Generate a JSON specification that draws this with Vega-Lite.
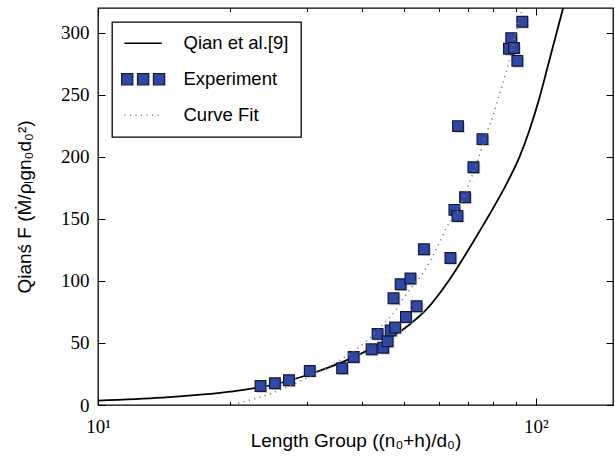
{
  "$schema": "https://vega.github.io/schema/vega-lite/v6.json",
  "width": 515,
  "height": 397,
  "autosize": {"type": "none"},
  "padding": {"left": 98, "top": 8, "right": 2, "bottom": 61},
  "background": "white",
  "config": {
    "view": {"stroke": "black", "strokeWidth": 1.3},
    "axis": {
      "domain": false,
      "grid": false,
      "labelFont": "Liberation Serif",
      "labelFontSize": 19,
      "labelColor": "black",
      "tickColor": "black",
      "tickWidth": 1,
      "titleFont": "Liberation Sans",
      "titleFontSize": 19,
      "titleFontWeight": "normal",
      "titleColor": "black"
    },
    "legend": {
      "orient": "top-left",
      "offset": 14,
      "strokeColor": "black",
      "strokeWidth": 1.3,
      "fillColor": "white",
      "padding": 12,
      "labelFont": "Liberation Sans",
      "labelFontSize": 18.5,
      "labelColor": "black",
      "labelLimit": 400,
      "symbolSize": 1850,
      "labelOffset": 41,
      "rowPadding": 17,
      "cornerRadius": 0
    }
  },
  "datasets": {
    "qian": [
      {"x": 10, "y": 3.5, "series": "Qian et al.[9]"},
      {"x": 14, "y": 5.9, "series": "Qian et al.[9]"},
      {"x": 20, "y": 10.7, "series": "Qian et al.[9]"},
      {"x": 25.5, "y": 16.9, "series": "Qian et al.[9]"},
      {"x": 30.9, "y": 25.6, "series": "Qian et al.[9]"},
      {"x": 40.2, "y": 42, "series": "Qian et al.[9]"},
      {"x": 51.3, "y": 64.5, "series": "Qian et al.[9]"},
      {"x": 56.1, "y": 76.6, "series": "Qian et al.[9]"},
      {"x": 63.4, "y": 100.8, "series": "Qian et al.[9]"},
      {"x": 71.6, "y": 130.4, "series": "Qian et al.[9]"},
      {"x": 75.5, "y": 144, "series": "Qian et al.[9]"},
      {"x": 86.8, "y": 182, "series": "Qian et al.[9]"},
      {"x": 91.5, "y": 199, "series": "Qian et al.[9]"},
      {"x": 101.6, "y": 246, "series": "Qian et al.[9]"},
      {"x": 107, "y": 276, "series": "Qian et al.[9]"},
      {"x": 115.4, "y": 320, "series": "Qian et al.[9]"}
    ],
    "fit": [
      {"x": 20.9, "y": 1.4},
      {"x": 23.4, "y": 6.2},
      {"x": 26.0, "y": 12},
      {"x": 29.1, "y": 19.6},
      {"x": 32.6, "y": 28.2},
      {"x": 36.8, "y": 39},
      {"x": 40.5, "y": 49.8},
      {"x": 44.6, "y": 64.5},
      {"x": 47.9, "y": 76.6},
      {"x": 50.1, "y": 87.3},
      {"x": 51.8, "y": 94},
      {"x": 55.5, "y": 107.5},
      {"x": 59.6, "y": 127.7},
      {"x": 62.7, "y": 143.8},
      {"x": 66.5, "y": 157.3},
      {"x": 69.9, "y": 176},
      {"x": 71.6, "y": 185.5},
      {"x": 74.1, "y": 200.2},
      {"x": 77.4, "y": 220.4},
      {"x": 80.2, "y": 235.2},
      {"x": 82.7, "y": 251.4},
      {"x": 84.5, "y": 262},
      {"x": 86.0, "y": 271.5},
      {"x": 87.1, "y": 278.2},
      {"x": 89.9, "y": 299.8},
      {"x": 92.3, "y": 314.5},
      {"x": 93.2, "y": 320}
    ],
    "experiment": [
      {"x": 23.5, "y": 15.3},
      {"x": 25.35, "y": 17.5},
      {"x": 27.3, "y": 19.9},
      {"x": 30.45, "y": 27.4},
      {"x": 36.1, "y": 29.6},
      {"x": 38.35, "y": 38.7},
      {"x": 42.15, "y": 44.9},
      {"x": 43.5, "y": 57.3},
      {"x": 44.8, "y": 46.2},
      {"x": 45.85, "y": 51.4},
      {"x": 46.6, "y": 60.1},
      {"x": 47.7, "y": 62.5},
      {"x": 47.3, "y": 86.0},
      {"x": 49.1, "y": 97.3},
      {"x": 50.5, "y": 71.0},
      {"x": 51.7, "y": 101.9},
      {"x": 53.4, "y": 79.6},
      {"x": 55.5, "y": 125.6},
      {"x": 63.8, "y": 118.5},
      {"x": 65.15, "y": 157.3},
      {"x": 66.2, "y": 152.4},
      {"x": 66.4, "y": 224.8},
      {"x": 68.9, "y": 167.5},
      {"x": 72.0, "y": 191.7},
      {"x": 75.5, "y": 214.3},
      {"x": 86.8, "y": 287.1},
      {"x": 87.85, "y": 295.7},
      {"x": 89.1, "y": 287.7},
      {"x": 90.7, "y": 277.4},
      {"x": 93.1, "y": 308.9}
    ]
  },
  "layer": [
    {
      "data": {"name": "qian"},
      "mark": {"type": "line", "interpolate": "monotone", "strokeWidth": 1.8, "clip": true},
      "encoding": {
        "x": {
          "field": "x", "type": "quantitative",
          "scale": {"type": "log", "domain": [10, 150], "nice": false},
          "axis": {
            "orient": "bottom",
            "values": [10, 20, 30, 40, 50, 60, 70, 80, 90, 100],
            "labelExpr": "datum.value == 10 ? '10¹' : datum.value == 100 ? '10²' : ''",
            "labelFlush": false,
            "labelOverlap": false,
            "tickSize": {"condition": {"test": "datum.value == 10 || datum.value == 100", "value": -7}, "value": -3.5},
            "labelPadding": 19,
            "title": "Length Group ((n₀+h)/d₀)",
            "titlePadding": -8
          }
        },
        "y": {
          "field": "y", "type": "quantitative",
          "scale": {"domain": [0, 320], "nice": false},
          "axis": {
            "orient": "left",
            "values": [0, 50, 100, 150, 200, 250, 300],
            "tickSize": -7,
            "labelPadding": 16,
            "title": "Qianś F (Ṁ/ρₗgn₀d₀²)",
            "titlePadding": 26
          }
        },
        "stroke": {
          "field": "series", "type": "nominal",
          "scale": {"domain": ["Qian et al.[9]", "Experiment", "Curve Fit"], "range": ["black", "#1a1a40", "#888888"]},
          "legend": {
            "title": null,
            "encode": {
              "symbols": {
                "update": {
                  "shape": {"signal": "datum.value === 'Experiment' ? 'M-0.54,-0.26h0.52v0.52h-0.52z M0.2,-0.26h0.52v0.52h-0.52z M0.94,-0.26h0.52v0.52h-0.52z' : 'M-0.41,0H1.33'"},
                  "fill": {"signal": "datum.value === 'Experiment' ? '#2e48a6' : 'transparent'"},
                  "strokeDash": {"signal": "datum.value === 'Curve Fit' ? [1.2, 4.3] : [1, 0]"},
                  "strokeWidth": {"signal": "datum.value === 'Experiment' ? 1.3 : 1.7"}
                }
              }
            }
          }
        }
      }
    },
    {
      "data": {"name": "experiment"},
      "mark": {"type": "point", "shape": "square", "filled": true, "size": 115, "color": "#b0b0b0", "opacity": 0.6, "xOffset": 1.5, "yOffset": 1.5},
      "encoding": {
        "x": {"field": "x", "type": "quantitative", "axis": null},
        "y": {"field": "y", "type": "quantitative", "axis": null}
      }
    },
    {
      "data": {"name": "experiment"},
      "mark": {"type": "point", "shape": "square", "filled": true, "size": 115, "fill": "#2e48a6", "stroke": "#16163a", "strokeWidth": 1.2, "opacity": 1},
      "encoding": {
        "x": {"field": "x", "type": "quantitative", "axis": null},
        "y": {"field": "y", "type": "quantitative", "axis": null}
      }
    },
    {
      "data": {"name": "fit"},
      "mark": {"type": "line", "interpolate": "monotone", "stroke": "#808080", "strokeWidth": 1.6, "strokeDash": [1.2, 4.3], "clip": true},
      "encoding": {
        "x": {
          "field": "x", "type": "quantitative",
          "axis": {
            "orient": "top",
            "values": [10, 20, 30, 40, 50, 60, 70, 80, 90, 100],
            "labels": false,
            "tickSize": {"condition": {"test": "datum.value == 10 || datum.value == 100", "value": -7}, "value": -3.5},
            "title": null
          }
        },
        "y": {
          "field": "y", "type": "quantitative",
          "axis": {
            "orient": "right",
            "values": [0, 50, 100, 150, 200, 250, 300],
            "labels": false,
            "tickSize": -7,
            "title": null
          }
        }
      }
    }
  ]
}
